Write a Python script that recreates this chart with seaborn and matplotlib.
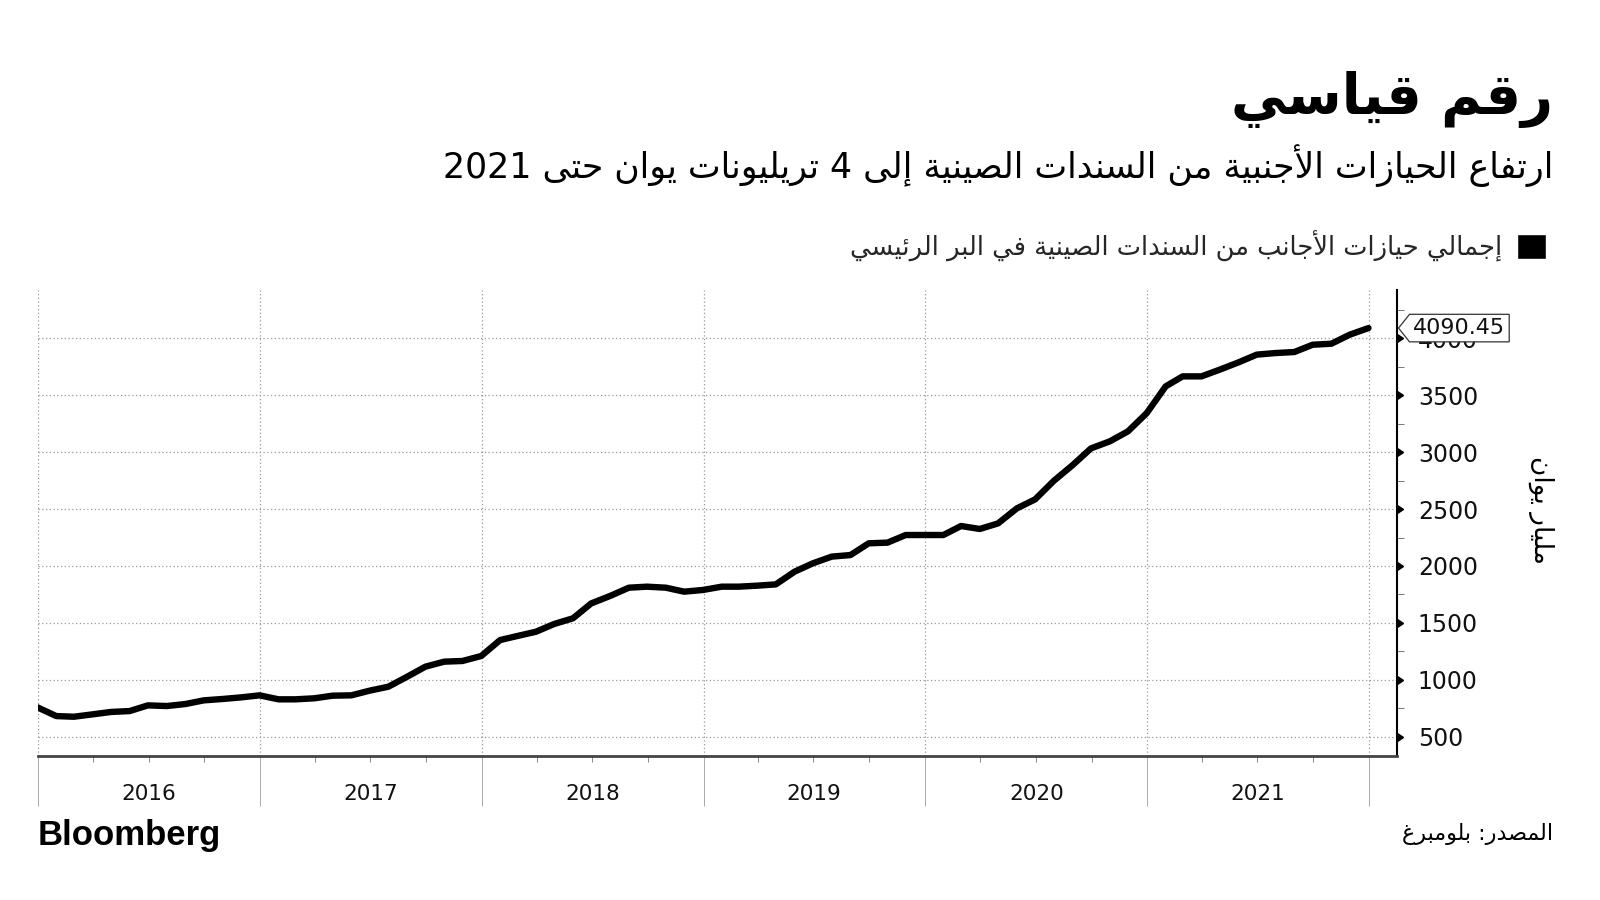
import re
import pandas as pd
import matplotlib
matplotlib.use("Agg")
import matplotlib.pyplot as plt
import matplotlib.dates as mdates
import matplotlib.ticker as mticker
import matplotlib.transforms as mtransforms
from matplotlib.markers import CARETRIGHTBASE
from matplotlib.patches import Patch
from matplotlib.path import Path
import seaborn as sns

# --- data (monthly, billion yuan) ---
start_month = "2015-12-31"
holdings = [
    758, 681, 675, 696, 717, 725, 775, 769, 787, 819, 831, 845,
    863, 828, 828, 837, 860, 863, 904, 939, 1027, 1115, 1159, 1165,
    1209, 1349, 1384, 1422, 1490, 1540, 1671, 1736, 1809, 1818, 1809, 1774,
    1789, 1818, 1818, 1827, 1838, 1950, 2023, 2082, 2096, 2199, 2205, 2272,
    2272, 2272, 2351, 2325, 2374, 2506, 2585, 2749, 2887, 3033, 3095, 3183,
    3344, 3578, 3666, 3666, 3725, 3789, 3857, 3871, 3880, 3944, 3953, 4032,
    4090.45,
]
years = [2016, 2017, 2018, 2019, 2020, 2021]
y_ticks = [500, 1000, 1500, 2000, 2500, 3000, 3500, 4000]

title = "رقم قياسي"
subtitle = "ارتفاع الحيازات الأجنبية من السندات الصينية إلى 4 تريليونات يوان حتى 2021"
series_name = "إجمالي حيازات الأجانب من السندات الصينية في البر الرئيسي"
y_label = "مليار يوان"
source = "المصدر: بلومبرغ"

# --- small arabic shaper (matplotlib has no text shaping) ---
AR = {
    "\u0621": (0xFE80, 1), "\u0622": (0xFE81, 2), "\u0623": (0xFE83, 2),
    "\u0624": (0xFE85, 2), "\u0625": (0xFE87, 2), "\u0626": (0xFE89, 4),
    "\u0627": (0xFE8D, 2), "\u0628": (0xFE8F, 4), "\u0629": (0xFE93, 2),
    "\u062A": (0xFE95, 4), "\u062B": (0xFE99, 4), "\u062C": (0xFE9D, 4),
    "\u062D": (0xFEA1, 4), "\u062E": (0xFEA5, 4), "\u062F": (0xFEA9, 2),
    "\u0630": (0xFEAB, 2), "\u0631": (0xFEAD, 2), "\u0632": (0xFEAF, 2),
    "\u0633": (0xFEB1, 4), "\u0634": (0xFEB5, 4), "\u0635": (0xFEB9, 4),
    "\u0636": (0xFEBD, 4), "\u0637": (0xFEC1, 4), "\u0638": (0xFEC5, 4),
    "\u0639": (0xFEC9, 4), "\u063A": (0xFECD, 4), "\u0641": (0xFED1, 4),
    "\u0642": (0xFED5, 4), "\u0643": (0xFED9, 4), "\u0644": (0xFEDD, 4),
    "\u0645": (0xFEE1, 4), "\u0646": (0xFEE5, 4), "\u0647": (0xFEE9, 4),
    "\u0648": (0xFEED, 2), "\u0649": (0xFEEF, 2), "\u064A": (0xFEF1, 4),
}
LAM_ALEF = {"\u0622": 0xFEF5, "\u0623": 0xFEF7, "\u0625": 0xFEF9, "\u0627": 0xFEFB}


def ar(text):
    out = []
    prev_joins = False
    i = 0
    while i < len(text):
        c = text[i]
        if c not in AR:
            out.append(c)
            prev_joins = False
            i += 1
            continue
        base, kind = AR[c]
        nxt = text[i + 1] if i + 1 < len(text) else ""
        if c == "\u0644" and nxt in LAM_ALEF:
            out.append(chr(LAM_ALEF[nxt] + (1 if prev_joins else 0)))
            prev_joins = False
            i += 2
            continue
        to_next = kind == 4 and nxt in AR and AR[nxt][1] > 1
        if kind == 1:
            form = 0
        elif prev_joins and to_next:
            form = 3
        elif to_next:
            form = 2
        elif prev_joins:
            form = 1
        else:
            form = 0
        out.append(chr(base + form))
        prev_joins = to_next
        i += 1
    vis = "".join(out)[::-1]
    return re.sub(r"[0-9.]+", lambda m: m.group(0)[::-1], vis)


def tag_box(x0, y0, width, height, mutation_size):
    pad = 0.17 * mutation_size
    x0, y0 = x0 - pad, y0 - pad
    x1, y1 = x0 + width + 2 * pad, y0 + height + 2 * pad
    tip = x0 - (y1 - y0) * 0.4
    ym = (y0 + y1) / 2
    return Path([(tip, ym), (x0, y0), (x1, y0), (x1, y1), (x0, y1), (tip, ym)], closed=True)


sns.set_theme(style="white")
plt.rcParams["font.family"] = ["DejaVu Sans"]

df = pd.DataFrame({
    "date": pd.date_range(start_month, periods=len(holdings), freq="ME"),
    "value": holdings,
})

fig = plt.figure(figsize=(16, 9), dpi=100)
ax = fig.add_axes([38 / 1600, 1 - 756 / 900, (1397 - 38) / 1600, (756 - 290) / 900])

sns.lineplot(data=df, x="date", y="value", color="black", linewidth=4.6,
             ax=ax, legend=False, zorder=3)

ax.set_xlim(pd.Timestamp("2016-01-01"), pd.Timestamp("2022-02-16"))
ax.set_ylim(330, 4425)
ax.set_xlabel("")
ax.set_ylabel("")

# x axis: year boundaries + quarter ticks
ax.xaxis.set_major_locator(mdates.YearLocator())
ax.xaxis.set_minor_locator(mdates.MonthLocator(bymonth=[4, 7, 10]))
ax.xaxis.set_major_formatter(mticker.NullFormatter())
ax.tick_params(axis="x", which="major", direction="out", length=36, width=0.7,
               color="#aaaaaa", bottom=True)
ax.tick_params(axis="x", which="minor", direction="out", length=4, width=0.7,
               color="#888888", bottom=True)
xtrans = mtransforms.blended_transform_factory(ax.transData, ax.transAxes)
for yr in years:
    ax.text(pd.Timestamp(f"{yr}-07-02"), -0.082, str(yr), transform=xtrans,
            ha="center", va="center", fontsize=15.5, color="#111111")

# y axis on the right
ax.yaxis.tick_right()
ax.set_yticks(y_ticks)
ax.yaxis.set_minor_locator(mticker.MultipleLocator(250))
ax.tick_params(axis="y", which="major", right=True, length=6, width=1,
               color="black", pad=9, labelsize=17, labelcolor="#111111")
ax.tick_params(axis="y", which="minor", right=True, length=5, width=0.7,
               color="#777777", direction="out")
for t in ax.yaxis.get_major_ticks():
    t.tick2line.set_marker(CARETRIGHTBASE)
    t.tick2line.set_markersize(6)

ax.grid(True, which="major", color="#999999", linestyle=(0, (1, 2)), linewidth=0.9)

for side in ["top", "left"]:
    ax.spines[side].set_visible(False)
ax.spines["bottom"].set_color("#444444")
ax.spines["bottom"].set_linewidth(2)
ax.spines["right"].set_color("black")
ax.spines["right"].set_linewidth(1.5)

# last value tag
ytrans = mtransforms.blended_transform_factory(ax.transAxes, ax.transData)
ax.text(1.012, holdings[-1], f"{holdings[-1]:.2f}", transform=ytrans,
        ha="left", va="center", fontsize=16, color="#111111", zorder=10,
        clip_on=False,
        bbox=dict(boxstyle=tag_box, facecolor="white", edgecolor="#333333", linewidth=0.9))

# titles, legend, labels
fig.text(1553 / 1600, 1 - 100 / 900, ar(title), ha="right", va="center",
         fontsize=40, fontweight="bold", color="black")
fig.text(1553 / 1600, 1 - 166 / 900, ar(subtitle), ha="right", va="center",
         fontsize=25, color="black")
fig.legend(handles=[Patch(facecolor="black", label=ar(series_name))],
           loc="center right", bbox_to_anchor=(1556 / 1600, 1 - 246 / 900),
           markerfirst=False, frameon=False, fontsize=18.5, handlelength=1.1,
           handleheight=1.1, handletextpad=0.6, borderaxespad=0)
fig.text(1541 / 1600, 1 - 510 / 900, ar(y_label), ha="center", va="center",
         rotation=-90, fontsize=19, color="black")

fig.text(38 / 1600, 1 - 835 / 900, "Bloomberg", ha="left", va="center",
         fontsize=25, fontweight="bold", family=["Liberation Sans"], color="black")
fig.text(1553 / 1600, 1 - 834 / 900, ar(source), ha="right", va="center",
         fontsize=16, color="black")

fig.savefig("out.png", dpi=100, facecolor="white")
